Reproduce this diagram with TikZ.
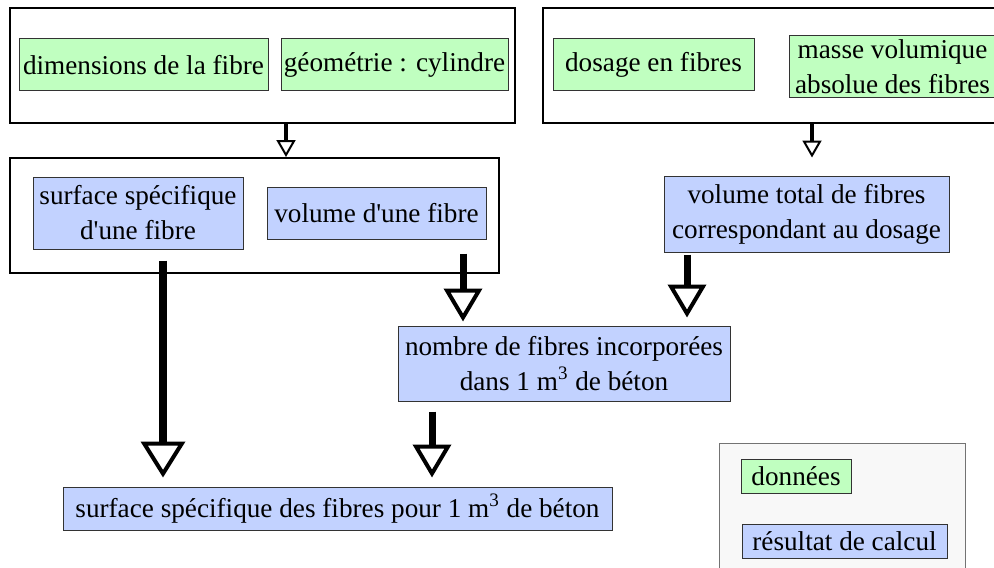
\documentclass[tikz,border=0pt]{standalone}
\usepackage{fontspec}
\setmainfont{Liberation Serif}
\usetikzlibrary{arrows.meta,fit}
\definecolor{datagreen}{RGB}{192,255,192}
\definecolor{resblue}{RGB}{194,210,255}
\definecolor{legendbg}{RGB}{248,248,248}
\begin{document}
\begin{tikzpicture}[x=0.5pt,y=-0.5pt,
  every node/.style={font=\rmfamily\fontsize{13.6}{17.5}\selectfont},
  outerbox/.style={draw=black, line width=1pt, inner sep=0pt},
  gbox/.style={draw=black!80, line width=0.5pt, fill=datagreen, inner sep=0pt, align=center},
  bbox/.style={draw=black!80, line width=0.5pt, fill=resblue, inner sep=0pt, align=center},
  legendbox/.style={draw=black!55, line width=0.5pt, fill=legendbg, inner sep=0pt},
  smallarr/.style={line width=1.75pt, -{Triangle[open, length=8.5pt, width=9.5pt, line width=1pt]}},
  medarr/.style={line width=3.5pt, -{Triangle[open, length=16.5pt, width=19pt, line width=2pt]}},
  bigarr/.style={line width=4pt, -{Triangle[open, length=18pt, width=22pt, line width=2pt]}},
]
\useasboundingbox (0,0) rectangle (994,567);
\clip (0,0) rectangle (994,567);

% outer frames
\node[outerbox, fit={(10,8) (515,123)}] (outer1) {};
\node[outerbox, fit={(543,8) (1010,123)}] (outer2) {};
\node[outerbox, fit={(10,158) (499,273)}] (outer3) {};

% data boxes
\node[gbox, minimum width=124.5pt, minimum height=26pt] (dim) at (143.5,65) {dimensions de la fibre};
\node[gbox, minimum width=113.5pt, minimum height=26pt] (geo) at (394.5,65) {géométrie : cylindre};
\node[gbox, minimum width=100.5pt, minimum height=26pt] (dos) at (653.5,65) {dosage en fibres};
\node[gbox, minimum width=103.5pt, minimum height=31pt] (masse) at (892.5,67) {masse volumique\\absolue des fibres};

% result boxes
\node[bbox, minimum width=105pt, minimum height=36pt] (surf1) at (138,213) {surface spécifique\\d\textquotesingle une fibre};
\node[bbox, minimum width=109.5pt, minimum height=26pt] (vol1) at (376.5,213) {volume d\textquotesingle une fibre};
\node[bbox, minimum width=142.5pt, minimum height=38pt] (voltot) at (806.5,214) {volume total de fibres\\correspondant au dosage};
\node[bbox, minimum width=166pt, minimum height=37.5pt] (nombre) at (564,363.5) {nombre de fibres incorporées\\dans 1 m\textsuperscript{3} de béton};
\node[bbox, minimum width=274.5pt, minimum height=21.5pt] (surftot) at (337.5,508.5) {surface spécifique des fibres pour 1 m\textsuperscript{3} de béton};

% legend
\node[legendbox, fit={(719,443) (965,590)}] (legend) {};
\node[gbox, minimum width=55pt, minimum height=17pt] (lgdata) at (796,476) {données};
\node[bbox, minimum width=102.5pt, minimum height=17pt] (lgres) at (844.5,541) {résultat de calcul};

% arrow columns
\coordinate (x1) at (286,0);
\coordinate (x2) at (812,0);
\coordinate (x3) at (163,0);
\coordinate (x4) at (463,0);
\coordinate (x5) at (687,0);
\coordinate (x6) at (432,0);

% connectors
\draw[smallarr] (outer1.south -| x1) -- (outer3.north -| x1);
\draw[smallarr, shorten >=9pt] (outer2.south -| x2) -- (voltot.north -| x2);
\draw[bigarr, shorten <=5.5pt, shorten >=4.5pt] (surf1.south -| x3) -- (surftot.north -| x3);
\draw[medarr, shorten <=7pt, shorten >=2pt] (vol1.south -| x4) -- (nombre.north -| x4);
\draw[medarr, shorten <=1pt, shorten >=4pt] (voltot.south -| x5) -- (nombre.north -| x5);
\draw[medarr, shorten <=5pt, shorten >=4.5pt] (nombre.south -| x6) -- (surftot.north -| x6);
\end{tikzpicture}
\end{document}
